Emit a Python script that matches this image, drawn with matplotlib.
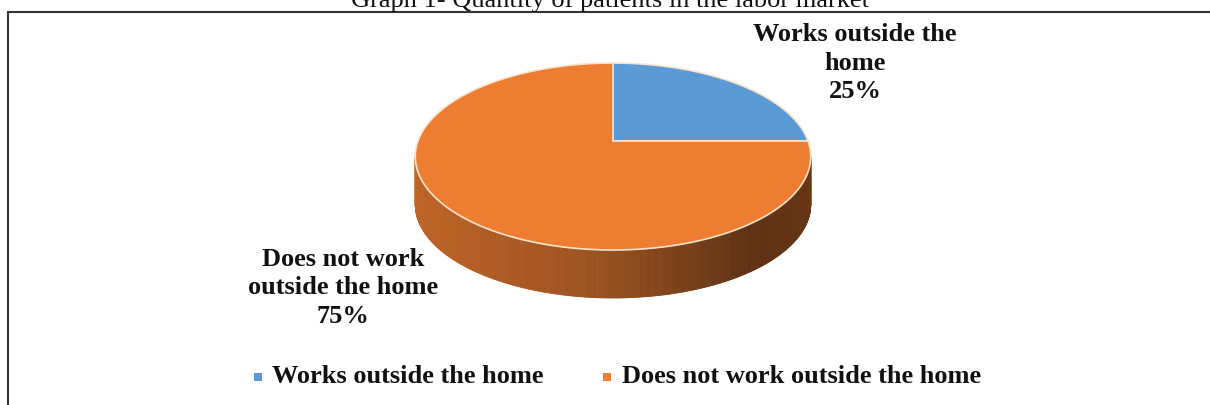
import numpy as np
import matplotlib
matplotlib.use("Agg")
import matplotlib.pyplot as plt
from matplotlib.patches import Polygon, Rectangle
from matplotlib.colors import to_rgb

# data
categories = ["Works outside the home", "Does not work outside the home"]
values = [25, 75]
colors = ["#5B9BD5", "#ED7D31"]
data_labels = ["Works outside the\nhome\n25%", "Does not work\noutside the home\n75%"]
label_pos = [(855, 63), (343, 288)]
title = "Graph 1- Quantity of patients in the labor market"

W, H = 1210, 405
fig = plt.figure(figsize=(W / 100, H / 100), dpi=100)
ax = fig.add_axes([0, 0, 1, 1])
ax.set_xlim(0, W)
ax.set_ylim(H, 0)
ax.axis("off")

serif = ["Liberation Serif", "DejaVu Serif"]

# pie geometry in pixel space, simple perspective tilt
cx, cy = 613, 141
sx, ty, k = 195, 90.9, 0.166
depth = 48


def proj(phi):
    X = np.cos(phi)
    Z = np.sin(phi)
    w = 1 + k * Z
    return cx + sx * X / w, cy - ty * Z / w


# wedge boundaries: start at 12 o'clock, clockwise
fracs = np.array(values, dtype=float) / sum(values)
bounds = np.radians(90 - 360 * np.concatenate([[0], np.cumsum(fracs)]))


def wedge_of(phi):
    p = phi
    while p > bounds[0]:
        p -= 2 * np.pi
    while p <= bounds[-1]:
        p += 2 * np.pi
    for i in range(len(values)):
        if bounds[i + 1] < p <= bounds[i]:
            return i
    return 0


# side (front visible half) with horizontal shading
phis = np.linspace(-np.pi, np.pi, 2000)
xs, ys = proj(phis)
ph_l = phis[np.argmin(np.where(np.cos(phis) < 0, xs, 1e9))]
ph_r = phis[np.argmax(np.where(np.cos(phis) > 0, xs, -1e9))]
if ph_l < 0:
    ph_l += 2 * np.pi
if ph_r < 0:
    ph_r += 2 * np.pi
side_phi = np.linspace(ph_l, ph_r, 400)
xl, _ = proj(ph_l)
xr, _ = proj(ph_r)
shade_t = [0.0, 0.45, 0.85, 1.0]
shade_f = [0.80, 0.66, 0.40, 0.43]
for a, b in zip(side_phi[:-1], side_phi[1:]):
    x0, y0 = proj(a)
    x1, y1 = proj(b)
    t = ((x0 + x1) / 2 - xl) / (xr - xl)
    f = np.interp(t, shade_t, shade_f)
    base = np.array(to_rgb(colors[wedge_of((a + b) / 2)]))
    c = tuple(base * f)
    ax.add_patch(Polygon([(x0, y0), (x1, y1), (x1, y1 + depth), (x0, y0 + depth)],
                         closed=True, facecolor=c, edgecolor=c, linewidth=0.6))

# top faces
for i in range(len(values)):
    arc = np.linspace(bounds[i], bounds[i + 1], 300)
    ax_, ay_ = proj(arc)
    pts = [(cx, cy)] + list(zip(ax_, ay_))
    ax.add_patch(Polygon(pts, closed=True, facecolor=colors[i],
                         edgecolor="#fbe3cc", linewidth=1.2, joinstyle="miter"))

# data labels
for txt, (lx, ly) in zip(data_labels, label_pos):
    ax.text(lx, ly, txt, ha="center", va="center", family=serif,
            fontweight="bold", fontsize=19, color="#111111", linespacing=1.3)

# legend
leg_y = 377
leg_items = [(258, 272, categories[0]), (607, 622, categories[1])]
for (sqx, tx, name), col in zip(leg_items, colors):
    ax.add_patch(Rectangle((sqx - 4, leg_y - 4), 8, 8, facecolor=col, edgecolor="none"))
    ax.text(tx, 383, name, ha="left", va="baseline", family=serif,
            fontweight="bold", fontsize=19, color="#111111")

# title (clipped at the top like the scan)
ax.text(610, 7, title, ha="center", va="baseline", family=serif,
        fontsize=19, color="#111111")

# frame lines
ax.plot([7, W], [12, 12], color="#333333", linewidth=1.5, solid_capstyle="butt")
ax.plot([7.5, 7.5], [11.5, H], color="#333333", linewidth=1.5, solid_capstyle="butt")

fig.savefig("out.png", dpi=100)
